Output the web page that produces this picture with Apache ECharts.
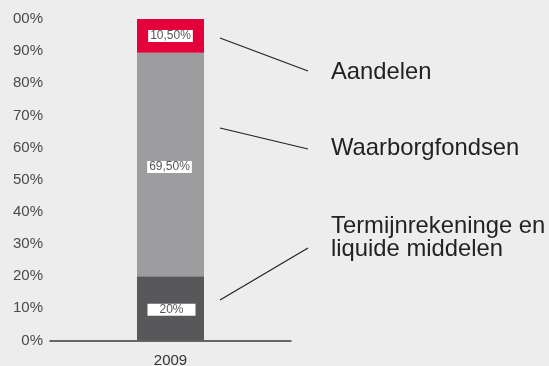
<!DOCTYPE html>
<html>
<head>
<meta charset="utf-8">
<script src="https://cdn.jsdelivr.net/npm/echarts@6/dist/echarts.min.js"></script>
<style>
  html, body { margin: 0; padding: 0; background: #ededed; }
  #chart { width: 549px; height: 366px; }
</style>
</head>
<body>
<div id="chart"></div>
<script>
// Portfolio split for one year, stacked to 100%
const years = ['2009'];
const seriesNames = ['Termijnrekeninge en\nliquide middelen', 'Waarborgfondsen', 'Aandelen'];
const termijnValues = [20];
const waarborgValues = [69.5];
const aandelenValues = [10.5];
const yTickLabels = ['0%', '10%', '20%', '30%', '40%', '50%', '60%', '70%', '80%', '90%', '00%'];

const FONT = '"Liberation Sans", Arial, Helvetica, sans-serif';

// Dutch style percentage: 20 -> "20%", 69.5 -> "69,50%"
function pct(v) {
  return (Number.isInteger(v) ? String(v) : v.toFixed(2).replace('.', ',')) + '%';
}

function segLabel(extra) {
  return Object.assign({
    show: true,
    position: 'inside',
    formatter: p => pct(p.value),
    backgroundColor: '#ffffff',
    color: '#555555',
    fontFamily: FONT,
    fontSize: 12,
    lineHeight: 12,
    padding: [0, 2]
  }, extra || {});
}

const chart = echarts.init(document.getElementById('chart'), null, { renderer: 'canvas' });

chart.setOption({
  backgroundColor: '#ededed',
  animation: false,
  grid: { left: 50, right: 258, top: 19, bottom: 25.5, containLabel: false, outerBoundsMode: 'none' },
  xAxis: {
    type: 'category',
    data: years,
    axisLine: { show: true, lineStyle: { color: '#3a3a3a', width: 1.5 } },
    axisTick: { show: false },
    axisLabel: { color: '#333333', fontFamily: FONT, fontSize: 15, margin: 13 }
  },
  yAxis: {
    type: 'value',
    min: 0,
    max: 100,
    interval: 10,
    axisLine: { show: false },
    axisTick: { show: false },
    splitLine: { show: false },
    axisLabel: {
      color: '#4a4a4a',
      fontFamily: FONT,
      fontSize: 15,
      margin: 7,
      formatter: (v) => yTickLabels[Math.round(v / 10)]
    }
  },
  series: [
    {
      name: seriesNames[0], type: 'bar', stack: 'total', barWidth: 67,
      data: termijnValues,
      itemStyle: { color: '#58585a' },
      label: segLabel({ padding: [0, 12], offset: [1, 1.5] })
    },
    {
      name: seriesNames[1], type: 'bar', stack: 'total', barWidth: 67,
      data: waarborgValues,
      itemStyle: { color: '#9d9d9f' },
      label: segLabel({ offset: [-1, 2.5] })
    },
    {
      name: seriesNames[2], type: 'bar', stack: 'total', barWidth: 67,
      data: aandelenValues,
      itemStyle: { color: '#e4003a' },
      label: segLabel({ offset: [0, 0] })
    }
  ],
  graphic: [
    // callout leader lines
    { type: 'line', shape: { x1: 220, y1: 38, x2: 308, y2: 71 }, style: { stroke: '#222222', lineWidth: 1.2 } },
    { type: 'line', shape: { x1: 220, y1: 128, x2: 308, y2: 149 }, style: { stroke: '#222222', lineWidth: 1.2 } },
    { type: 'line', shape: { x1: 220, y1: 300, x2: 308, y2: 248 }, style: { stroke: '#222222', lineWidth: 1.2 } },
    // callout names
    { type: 'text', x: 331, y: 72, style: { text: seriesNames[2], fill: '#222222', font: '23.8px ' + FONT, verticalAlign: 'middle' } },
    { type: 'text', x: 331, y: 148, style: { text: seriesNames[1], fill: '#222222', font: '23.8px ' + FONT, verticalAlign: 'middle' } },
    { type: 'text', x: 331, y: 238, style: { text: seriesNames[0], fill: '#222222', font: '23.8px ' + FONT, lineHeight: 23, verticalAlign: 'middle' } }
  ]
});
</script>
</body>
</html>
